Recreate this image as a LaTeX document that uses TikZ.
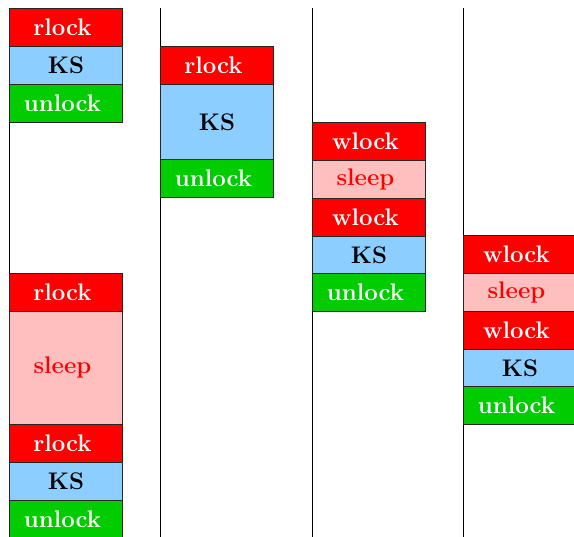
\documentclass[tikz,border=0pt]{standalone}
\usepackage{fontspec}
\usetikzlibrary{positioning}
\definecolor{lockred}{HTML}{FF0000}
\definecolor{ksblue}{HTML}{8CCEFF}
\definecolor{sleeppink}{HTML}{FFBFBF}
\definecolor{okgreen}{HTML}{00CC00}
\tikzset{
  box/.style={draw=black!85, line width=0.9pt, minimum width=113pt, inner sep=0pt,
    font=\fontsize{24}{26}\selectfont\bfseries, anchor=north west},
  leftish/.style={execute at end node={\hspace{7pt}}},
  lockbox/.style={box, leftish, fill=lockred, text=white, minimum height=38pt},
  ksbox/.style={box, fill=ksblue, text=black},
  sleepbox/.style={box, leftish, fill=sleeppink, text=lockred},
  unlockbox/.style={box, leftish, fill=okgreen, text=white, minimum height=38pt},
  timeline/.style={draw=black, line width=0.9pt}
}
\begin{document}
\begin{tikzpicture}[x=1pt,y=-1pt]
\useasboundingbox (0,0) rectangle (574,537);
\clip (0,0) rectangle (574,537);
% timelines
\foreach \n/\x in {a/9,b/160,c/312,d/463}{
  \coordinate (top\n) at (\x,8);
  \coordinate (bot\n) at (\x,545);
  \draw[timeline] (top\n) -- (bot\n);
}
% column 1, first group
\node[lockbox] (r1) at (9,8) {rlock};
\node[ksbox, minimum height=38pt] (k1) at (9,46) {KS};
\node[unlockbox] (u1) at (9,84) {unlock};
% column 1, second group
\node[lockbox] (r2) at (9,273) {rlock};
\node[sleepbox, minimum height=113pt] (s2) at (9,311) {sleep};
\node[lockbox] (r3) at (9,424) {rlock};
\node[ksbox, minimum height=38pt] (k2) at (9,462) {KS};
\node[unlockbox] (u2) at (9,500) {unlock};
% column 2
\node[lockbox] (r4) at (160,46) {rlock};
\node[ksbox, minimum height=75pt] (k3) at (160,84) {KS};
\node[unlockbox] (u3) at (160,159) {unlock};
% column 3
\node[lockbox] (w1) at (312,122) {wlock};
\node[sleepbox, minimum height=38pt] (s3) at (312,160) {sleep};
\node[lockbox] (w2) at (312,198) {wlock};
\node[ksbox, minimum height=38pt] (k4) at (312,236) {KS};
\node[unlockbox] (u4) at (312,273) {unlock};
% column 4
\node[lockbox] (w3) at (463,235) {wlock};
\node[sleepbox, minimum height=38pt] (s4) at (463,273) {sleep};
\node[lockbox] (w4) at (463,311) {wlock};
\node[ksbox, minimum height=38pt] (k5) at (463,349) {KS};
\node[unlockbox] (u5) at (463,386) {unlock};
\end{tikzpicture}
\end{document}
